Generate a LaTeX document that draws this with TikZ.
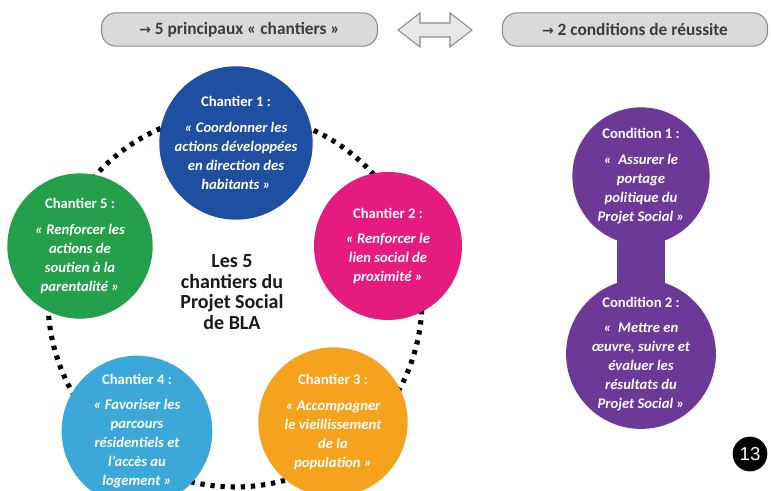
\documentclass[tikz,border=0pt]{standalone}
\usepackage{fontspec}
\setmainfont{Carlito}
\newfontfamily\arrowfont{DejaVu Sans}
\newfontfamily\badgefont{Liberation Sans}
\definecolor{cblue}{RGB}{31,79,160}
\definecolor{cpink}{RGB}{229,27,128}
\definecolor{corange}{RGB}{245,163,30}
\definecolor{clight}{RGB}{60,168,218}
\definecolor{cgreen}{RGB}{36,160,76}
\definecolor{cpurple}{RGB}{108,57,150}
\definecolor{boxfill}{RGB}{218,218,218}
\definecolor{boxline}{RGB}{140,140,140}
\definecolor{arrfill}{RGB}{232,232,232}
\definecolor{txtgrey}{RGB}{60,60,60}
\begin{document}
\begin{tikzpicture}[x=0.75pt,y=-0.75pt,
  bubble/.style={circle, inner sep=0pt, text=white, align=center,
    font=\fontsize{11}{14.2}\selectfont\bfseries},
  topbox/.style={draw=boxline, line width=0.8pt, fill=boxfill, rounded corners=11pt,
    minimum height=25pt, inner xsep=0pt, text=txtgrey, font=\fontsize{13}{15}\selectfont\bfseries},
  ring/.style={line width=3.8pt, dash pattern=on 3.2pt off 4.4pt},
  center text/.style={align=center, text=black!90, font=\fontsize{15}{15.4}\selectfont\bfseries}
]
\useasboundingbox (0,0) rectangle (771,491);
\fill[white] (0,0) rectangle (771,491);

% top boxes
\node[topbox, minimum width=207pt] (b1) at (239.5,29.5)
  {{\arrowfont\fontsize{10.5}{12}\selectfont →} 5 principaux « chantiers »};
\node[topbox, minimum width=199pt] (b2) at (635,29.5)
  {{\arrowfont\fontsize{10.5}{12}\selectfont →} 2 conditions de réussite};
\coordinate (aL) at (398,30);
\coordinate (aR) at (472,30);
\draw[boxline, line width=0.8pt, fill=arrfill, line join=miter]
  (aL) -- ++(22,-17) -- ++(0,10) -- ++(30,0) -- ++(0,-10) -- (aR)
  -- ++(-22,17) -- ++(0,-10) -- ++(-30,0) -- ++(0,10) -- cycle;

% dotted ring
\coordinate (rc) at (235,300);
\draw[ring] (rc) circle[radius=187];

% chantiers
\node[bubble, fill=cblue, minimum size=111pt] (c1) at (236,143)
  {Chantier 1 :\\[5pt]\itshape « Coordonner les\\\itshape actions développées\\\itshape en direction des\\\itshape habitants »};
\node[bubble, fill=cpink, minimum size=111pt] (c2) at (388,246)
  {Chantier 2 :\\[5pt]\itshape « Renforcer le\\\itshape lien social de\\\itshape proximité »};
\node[bubble, fill=corange, minimum size=112pt] (c3) at (333,422)
  {Chantier 3 :\\[5pt]\itshape « Accompagner\\\itshape le vieillissement\\\itshape de la\\\itshape population »};
\node[bubble, fill=clight, minimum size=113pt] (c4) at (137,431)
  {Chantier 4 :\\[5pt]\itshape « Favoriser les\\\itshape parcours\\\itshape résidentiels et\\\itshape l'accès au\\\itshape logement »};
\node[bubble, fill=cgreen, minimum size=109pt] (c5) at (80,246)
  {Chantier 5 :\\[5pt]\itshape « Renforcer les\\\itshape actions de\\\itshape soutien à la\\\itshape parentalité »};

\node[center text] (lbl) at (232,292) {Les 5\\chantiers du\\Projet Social\\de BLA};

% conditions
\coordinate (k1) at (641,176);
\coordinate (k2) at (641,354);
\fill[cpurple] ([xshift=-18]k1) rectangle ([xshift=18]k2);
\node[bubble, fill=cpurple, minimum size=103pt] (d1) at (k1)
  {Condition 1 :\\[5pt]\itshape « \ Assurer le\\\itshape portage\\\itshape politique du\\\itshape Projet Social »};
\node[bubble, fill=cpurple, minimum size=103pt] (d2) at (k2)
  {Condition 2 :\\[5pt]\itshape « \ Mettre en\\\itshape œuvre, suivre et\\\itshape évaluer les\\\itshape résultats du\\\itshape Projet Social »};

% badge
\node[circle, fill=black, minimum size=26pt, inner sep=0pt, text=white,
  font=\badgefont\fontsize{14}{16}\selectfont] (badge) at (750,454) {13};
\end{tikzpicture}
\end{document}
